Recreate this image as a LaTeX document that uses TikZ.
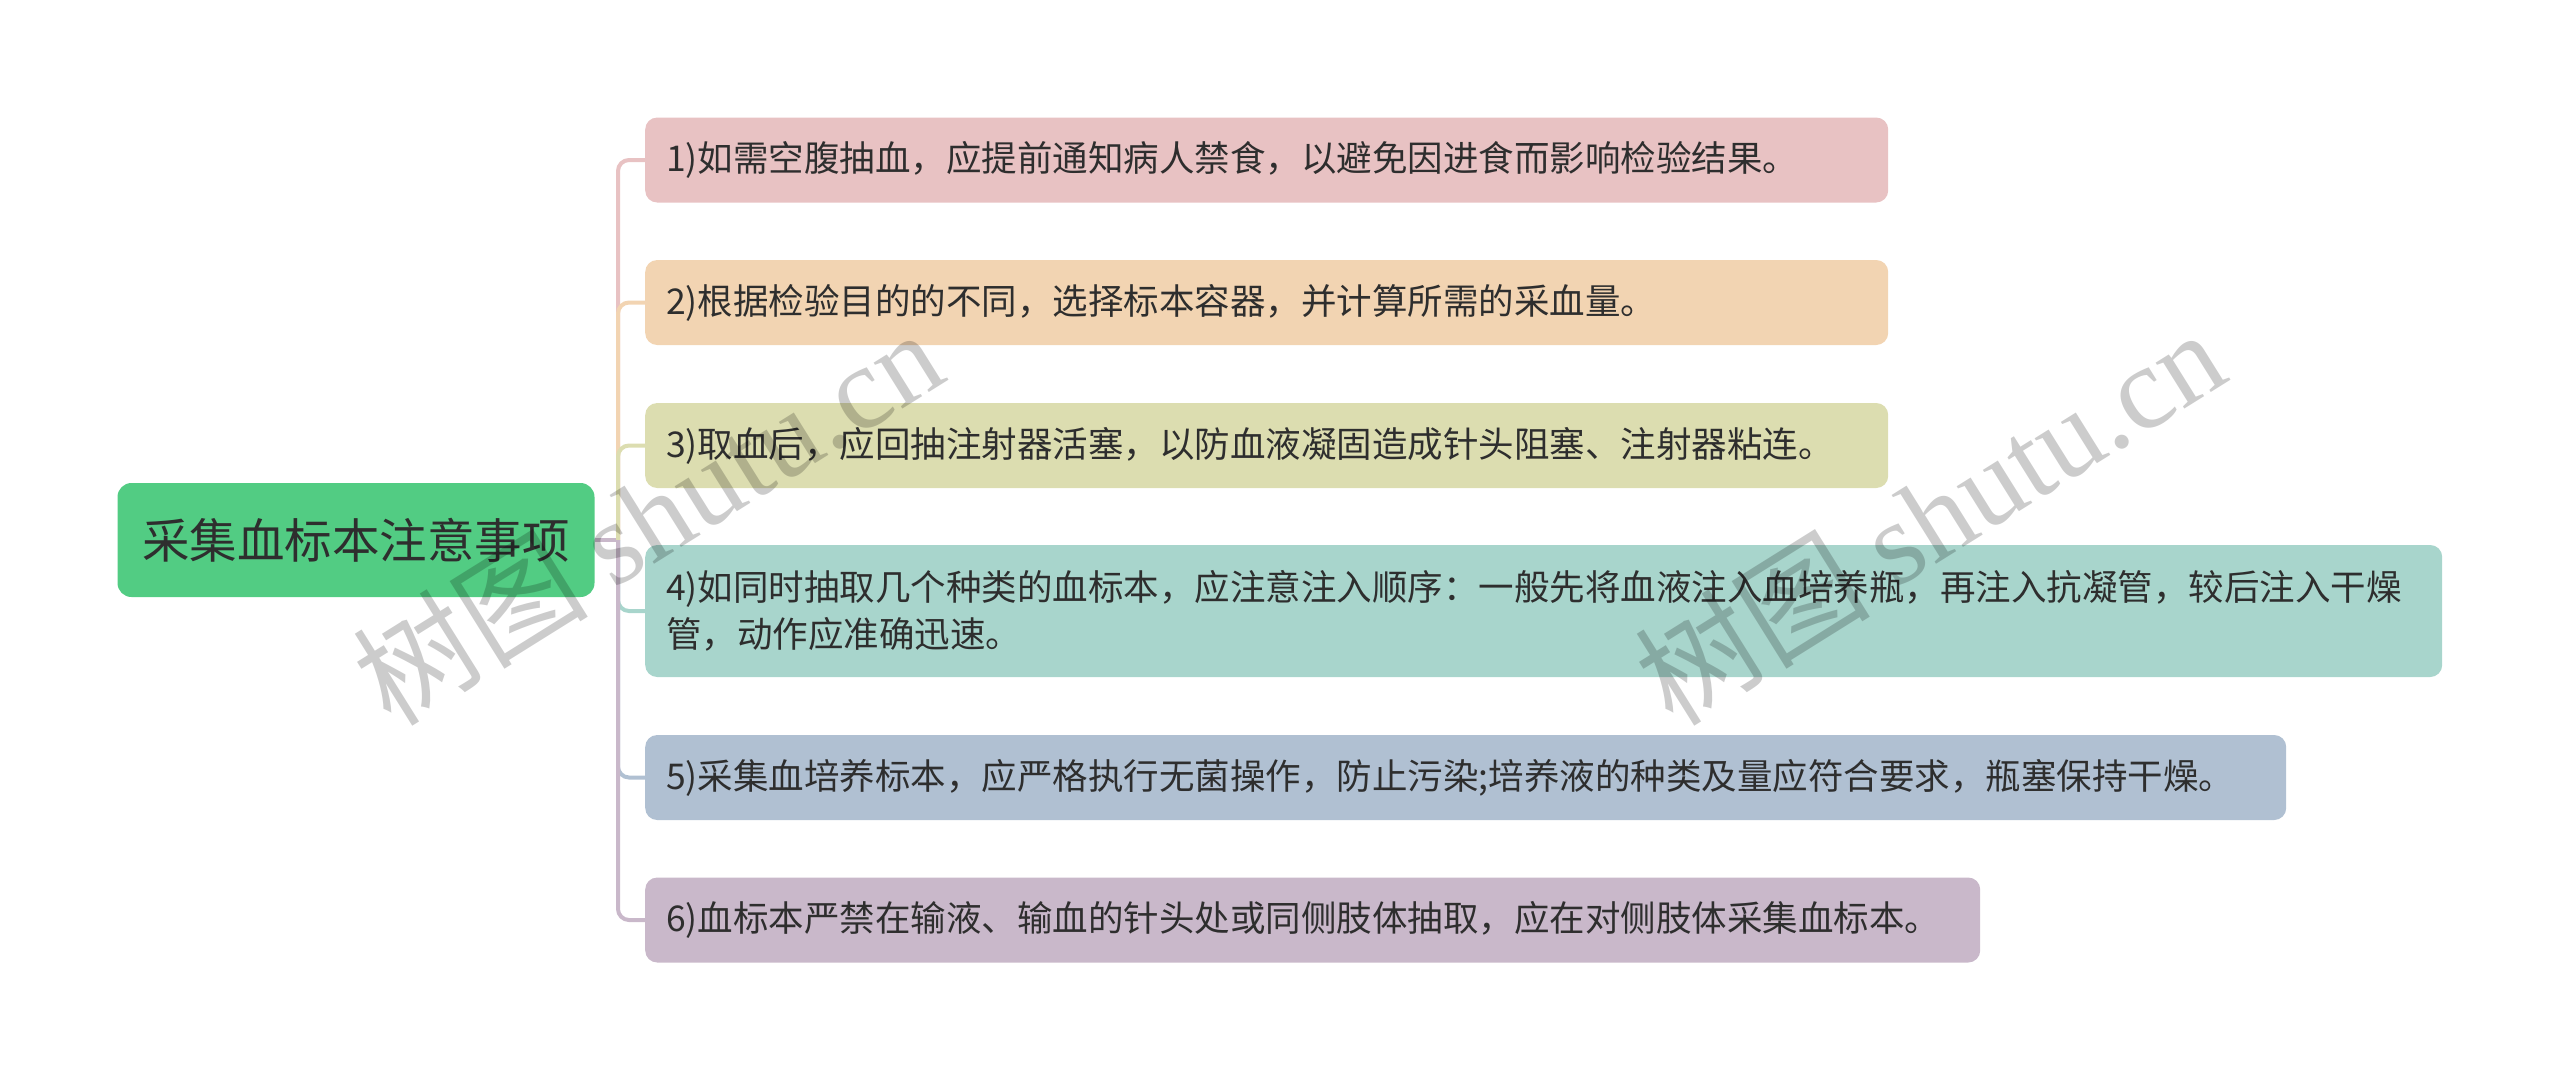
\documentclass[tikz,border=0pt]{standalone}
\usepackage{fontspec}
\newfontfamily\cjk{Noto Sans CJK SC}
\newfontfamily\wmfont{Liberation Serif}
\usetikzlibrary{positioning}
\definecolor{ROOT}{HTML}{52CC83}
\definecolor{PINK}{HTML}{E8C2C3}
\definecolor{ORANGE}{HTML}{F2D4B2}
\definecolor{OLIVE}{HTML}{DCDDB0}
\definecolor{TEAL}{HTML}{A8D5CC}
\definecolor{BLUE}{HTML}{B0C0D2}
\definecolor{LILAC}{HTML}{C9B8CA}
\definecolor{INK}{HTML}{2E2E2E}
\tikzset{
	every node/.style = {font=\cjk, text=INK},
	topic/.style = {fill=ROOT, rounded corners=14pt, minimum width=477pt, minimum height=114pt, inner sep=0pt, font=\cjk\fontsize{47.5}{56}\selectfont},
	item/.style = {fill=#1, rounded corners=12pt, anchor=west, inner xsep=21pt, inner ysep=0pt, minimum height=85pt, align=left, font=\cjk\fontsize{35.5}{47}\selectfont},
	link/.style = {draw=#1, line width=4pt, rounded corners=11pt},
	watermark/.style = {text=black, text opacity=0.2, rotate=32, font=\cjk\fontsize{118}{120}\selectfont}
}

\begin{document}
\begin{tikzpicture}[x=1pt, y=-1pt]
		\useasboundingbox (0,0) rectangle (2560,1080);
		% root
		\node[topic] (root) at (356,540) {采集血标本注意事项};
		\coordinate (trunk) at (618,540);
		% items
		\node[item=PINK, text width=1201pt] (b1) at (645,160) {1)如需空腹抽血，应提前通知病人禁食，以避免因进食而影响检验结果。};
		\node[item=ORANGE, text width=1201pt] (b2) at (645,302.5) {2)根据检验目的的不同，选择标本容器，并计算所需的采血量。};
		\node[item=OLIVE, text width=1201pt] (b3) at (645,445.5) {3)取血后，应回抽注射器活塞，以防血液凝固造成针头阻塞、注射器粘连。};
		\node[item=TEAL, text width=1755pt, minimum height=132pt] (b4) at (645,611) {4)如同时抽取几个种类的血标本，应注意注入顺序：一般先将血液注入血培养瓶，再注入抗凝管，较后注入干燥\\管，动作应准确迅速。};
		\node[item=BLUE, text width=1599pt] (b5) at (645,777.5) {5)采集血培养标本，应严格执行无菌操作，防止污染;培养液的种类及量应符合要求，瓶塞保持干燥。};
		\node[item=LILAC, text width=1293pt] (b6) at (645,920) {6)血标本严禁在输液、输血的针头处或同侧肢体抽取，应在对侧肢体采集血标本。};
		% links
		\draw[link=LILAC] (root.east) -- (trunk);
		\draw[link=PINK] (trunk) |- (b1.west);
		\draw[link=ORANGE] (trunk) |- (b2.west);
		\draw[link=OLIVE] (trunk) |- (b3.west);
		\draw[link=TEAL] (trunk) |- (b4.west);
		\draw[link=BLUE] (trunk) |- (b5.west);
		\draw[link=LILAC] (trunk) |- (b6.west);
		% watermark
		\node[watermark] (wm1) at (647,516) {树图 {\wmfont shutu.cn}};
		\node[watermark] (wm2) at (1929,516) {树图 {\wmfont shutu.cn}};
	\end{tikzpicture}
\end{document}
